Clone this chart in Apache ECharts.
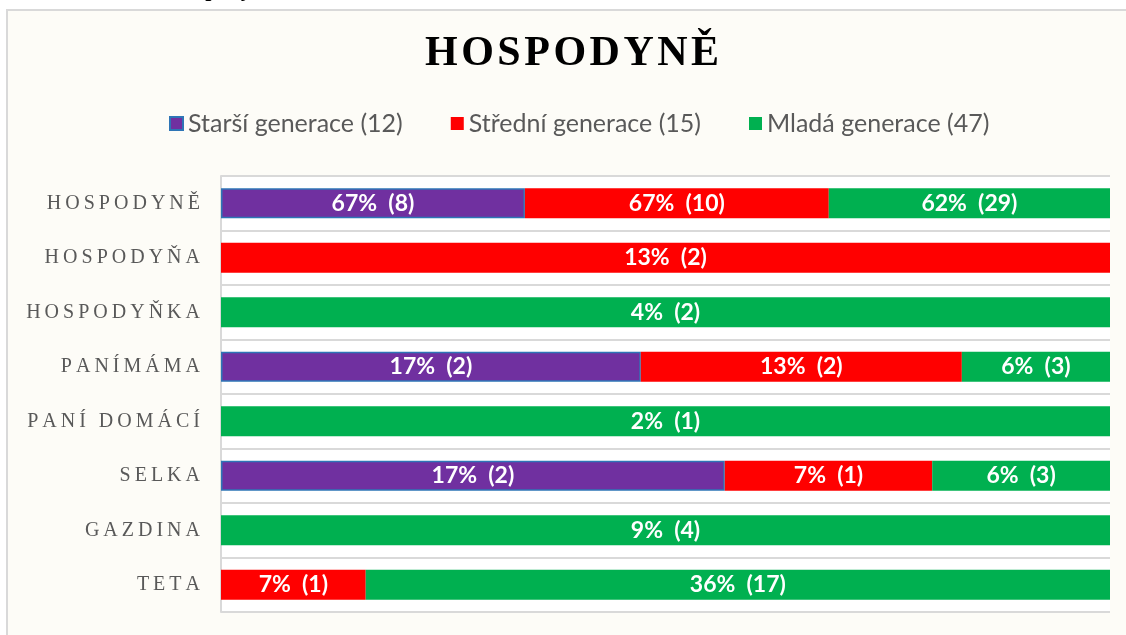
<!DOCTYPE html>
<html>
<head>
<meta charset="utf-8">
<script src="https://cdn.jsdelivr.net/npm/echarts@6/dist/echarts.min.js"></script>
<style>
  html, body { margin: 0; padding: 0; background: #ffffff; overflow: hidden; }
  #frame {
    position: absolute; left: 6px; top: 9px; width: 1140px; height: 650px;
    background: #fdfcf7; border: 2px solid #d9d9d9; box-sizing: border-box;
  }
  #chart { position: absolute; left: 0; top: 0; width: 1126px; height: 635px; }
</style>
</head>
<body>
<div id="frame"></div>
<div id="chart"></div>
<script>
// kategorie (shora dolu)
var kategorie = ['HOSPODYNĚ', 'HOSPODYŇA', 'HOSPODYŇKA', 'PANÍMÁMA', 'PANÍ DOMÁCÍ', 'SELKA', 'GAZDINA', 'TETA'];

// procenta a pocty podle generace
var starsiPct = [67, null, null, 17, null, 17, null, null];
var starsiPocet = [8, null, null, 2, null, 2, null, null];
var stredniPct = [67, 13, null, 13, null, 7, null, 7];
var stredniPocet = [10, 2, null, 2, null, 1, null, 1];
var mladaPct = [62, null, 4, 6, 2, 6, 9, 36];
var mladaPocet = [29, null, 2, 3, 1, 3, 4, 17];

var nazvySerii = ['Starší generace (12)', 'Střední generace (15)', 'Mladá generace (47)'];
var barvy = ['#7030a0', '#ff0000', '#00b050'];

// kazdy radek natazeny na 100 %
var soucty = kategorie.map(function (k, i) {
  return (starsiPct[i] || 0) + (stredniPct[i] || 0) + (mladaPct[i] || 0);
});
function podil(pct) {
  return pct.map(function (v, i) { return v == null ? null : v / soucty[i] * 100; });
}

function rozpal(s, mezera) {
  return s.split('').join(mezera);
}

function serie(idx, pct, pocet) {
  return {
    name: nazvySerii[idx],
    type: 'bar',
    stack: 'celkem',
    barCategoryGap: '45%',
    data: podil(pct),
    itemStyle: idx === 0
      ? { color: barvy[idx], borderColor: '#2e75b6', borderWidth: 1.5 }
      : { color: barvy[idx] },
    label: {
      show: true,
      position: 'inside',
      color: '#ffffff',
      fontFamily: 'Lato',
      fontWeight: 'bold',
      fontSize: 23,
      formatter: function (p) {
        return pct[p.dataIndex] + '%  (' + pocet[p.dataIndex] + ')';
      }
    }
  };
}

var myChart = echarts.init(document.getElementById('chart'));

var option = {
  animation: false,
  title: {
    text: rozpal('HOSPODYNĚ', '\u200a'),
    left: 420,
    top: 28,
    textStyle: { fontFamily: 'Liberation Serif', fontWeight: 'bold', fontSize: 42, color: '#000000' }
  },
  legend: {
    top: 106,
    left: 164,
    icon: 'rect',
    itemWidth: 13,
    itemHeight: 13,
    itemGap: 48,
    textStyle: { fontFamily: 'Lato', fontSize: 25, color: '#595959' },
    data: nazvySerii
  },
  graphic: [{
    type: 'text',
    left: 94,
    top: -21,
    style: { text: 'Graf 5: Hospodyně', font: 'bold 22px "Liberation Serif"', fill: '#000000' }
  }],
  grid: {
    left: 221,
    right: 16,
    top: 176,
    bottom: 23,
    show: true,
    backgroundColor: '#ffffff',
    borderWidth: 0
  },
  xAxis: {
    type: 'value',
    min: 0,
    max: 100,
    show: false
  },
  yAxis: {
    type: 'category',
    inverse: true,
    data: kategorie,
    axisLine: { show: true, lineStyle: { color: '#d9d9d9', width: 2 } },
    axisTick: { show: false },
    splitLine: { show: true, lineStyle: { color: '#d9d9d9', width: 2 } },
    axisLabel: {
      margin: 21,
      fontFamily: 'Liberation Serif',
      fontSize: 20,
      color: '#595959',
      formatter: function (v) { return rozpal(v, '\u2009'); }
    }
  },
  series: [
    serie(0, starsiPct, starsiPocet),
    serie(1, stredniPct, stredniPocet),
    serie(2, mladaPct, mladaPocet)
  ]
};

myChart.setOption(option);
</script>
</body>
</html>
